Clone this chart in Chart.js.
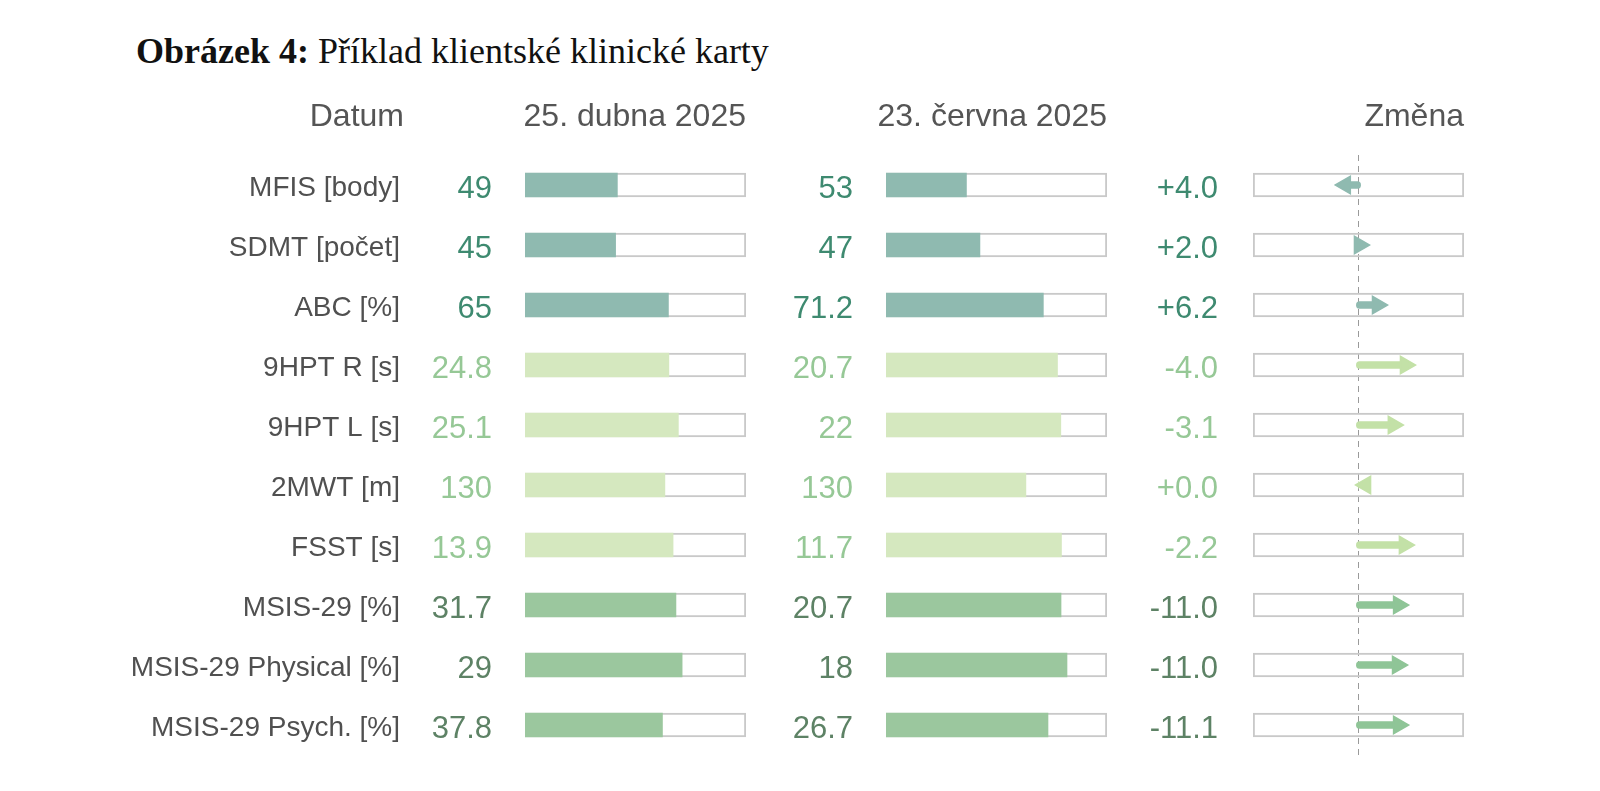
<!DOCTYPE html>
<html lang="cs">
<head>
<meta charset="utf-8">
<title>Obrázek 4: Příklad klientské klinické karty</title>
<script src="https://cdn.jsdelivr.net/npm/chart.js@4.4.1/dist/chart.umd.min.js"></script>
<style>
  html, body { margin: 0; padding: 0; background: #fff; }
  body { width: 1600px; height: 791px; position: relative; overflow: hidden; }
  .caption {
    position: absolute; left: 136px; top: 33px;
    font-family: "Liberation Serif", "Times New Roman", serif;
    font-size: 36px; line-height: 36px; color: #111; white-space: nowrap;
  }
  #card { position: absolute; left: 0; top: 0; }
</style>
</head>
<body>
<div class="caption"><b>Obrázek 4:</b> Příklad klientské klinické karty</div>
<canvas id="card" width="1600" height="791"></canvas>
<script>
// data of the card
const labels = ['MFIS [body]', 'SDMT [počet]', 'ABC [%]', '9HPT R [s]', '9HPT L [s]',
  '2MWT [m]', 'FSST [s]', 'MSIS-29 [%]', 'MSIS-29 Physical [%]', 'MSIS-29 Psych. [%]'];
const headers = ['Datum', '25. dubna 2025', '23. června 2025', 'Změna'];
const valuesApr = ['49', '45', '65', '24.8', '25.1', '130', '13.9', '31.7', '29', '37.8'];
const valuesJun = ['53', '47', '71.2', '20.7', '22', '130', '11.7', '20.7', '18', '26.7'];
const changes = ['+4.0', '+2.0', '+6.2', '-4.0', '-3.1', '+0.0', '-2.2', '-11.0', '-11.0', '-11.1'];
// how full each bar is (% of the box)
const fillApr = [41.8, 41.0, 64.9, 65.1, 69.4, 63.3, 67.0, 68.3, 71.1, 62.2];
const fillJun = [36.4, 42.5, 71.2, 77.6, 79.1, 63.3, 79.4, 79.2, 81.9, 73.3];
// change arrows (-100..100 across the box), +1 = points right
const arrowTail = [2, 0, -2, -2, -2, 0, -2, -2, -2, -2];
const arrowShaft = [-12.5, 0, 18, 44.5, 33, 0, 43.5, 38, 37, 38];
const arrowHead = [-12.5, 0.9, 18, 44.5, 33, 6.7, 43.5, 38, 37, 38];
const arrowDir = [-1, 1, 1, 1, 1, -1, 1, 1, 1, 1];
// which colour group a row belongs to
const rowGroup = ['a', 'a', 'a', 'b', 'b', 'b', 'b', 'c', 'c', 'c'];

const groupColors = {
  a: { bar: '#8fbab0', text: '#3e8a70', arrow: '#8fbab0' },
  b: { bar: '#d5e8bf', text: '#96c896', arrow: '#c3e1a7' },
  c: { bar: '#9bc79e', text: '#5d8265', arrow: '#8fc597' }
};
const FONT = '"Liberation Sans", Arial, Helvetica, sans-serif';
Chart.defaults.font.family = FONT;

const barColors = rowGroup.map(g => groupColors[g].bar);
const arrowColors = rowGroup.map(g => groupColors[g].arrow);

const boxStyle = {
  backgroundColor: 'rgba(0,0,0,0)',
  borderColor: '#c9c9c9',
  borderWidth: 1.5,
  borderSkipped: false,
  order: 5
};

// value texts and column headers
const cardText = {
  id: 'cardText',
  afterDatasetsDraw(chart) {
    const { ctx, scales } = chart;
    const y = scales.y;
    ctx.save();
    ctx.textAlign = 'right';

    ctx.font = '32px ' + FONT;
    ctx.fillStyle = '#555';
    ctx.textBaseline = 'alphabetic';
    const headY = chart.chartArea.top - 29;
    ctx.fillText(headers[0], y.right - 6, headY);
    ctx.fillText(headers[1], scales.x1.right, headY);
    ctx.fillText(headers[2], scales.x2.right, headY);
    ctx.fillText(headers[3], scales.x3.right, headY);

    ctx.font = '31px ' + FONT;
    ctx.textBaseline = 'middle';
    labels.forEach((_, i) => {
      const py = y.getPixelForValue(i) + 4;
      ctx.fillStyle = groupColors[rowGroup[i]].text;
      ctx.fillText(valuesApr[i], scales.x1.left - 33, py);
      ctx.fillText(valuesJun[i], scales.x2.left - 33, py);
      ctx.fillText(changes[i], scales.x3.left - 35, py);
    });
    ctx.restore();
  }
};

new Chart(document.getElementById('card'), {
  type: 'bar',
  data: {
    labels: labels,
    datasets: [
      { label: 'duben', data: fillApr, xAxisID: 'x1', backgroundColor: barColors, borderWidth: 0, order: 1 },
      Object.assign({ label: 'duben box', data: labels.map(() => 100), xAxisID: 'x1' }, boxStyle),
      { label: 'červen', data: fillJun, xAxisID: 'x2', backgroundColor: barColors, borderWidth: 0, order: 1 },
      Object.assign({ label: 'červen box', data: labels.map(() => 100), xAxisID: 'x2' }, boxStyle),
      Object.assign({ label: 'změna box', data: labels.map(() => [-100, 100]), xAxisID: 'x3' }, boxStyle),
      {
        label: 'změna',
        data: arrowShaft.map((v, i) => [arrowTail[i], v]),
        xAxisID: 'x3',
        backgroundColor: arrowColors,
        barThickness: 7,
        borderRadius: 3.5,
        borderSkipped: false,
        order: 2
      },
      {
        type: 'line',
        label: 'hrot',
        indexAxis: 'y',
        data: arrowHead,
        xAxisID: 'x3',
        yAxisID: 'y',
        showLine: false,
        pointStyle: 'triangle',
        pointRadius: 10,
        pointRotation: arrowDir.map(d => d > 0 ? 90 : -90),
        pointBackgroundColor: arrowColors,
        pointBorderColor: arrowColors,
        pointBorderWidth: 1.5,
        order: 0
      }
    ]
  },
  options: {
    indexAxis: 'y',
    responsive: false,
    animation: false,
    events: [],
    layout: { padding: { top: 155, bottom: 36, left: 0, right: 136 } },
    datasets: { bar: { grouped: false, barThickness: 24 } },
    plugins: { legend: { display: false }, tooltip: { enabled: false } },
    scales: {
      y: {
        type: 'category',
        position: 'left',
        grid: { display: false, drawTicks: false },
        border: { display: false },
        ticks: { color: '#505050', font: { size: 28 }, padding: 10, autoSkip: false, labelOffset: 3 },
        afterFit: s => { s.width = 410; }
      },
      xg1: { axis: 'x', type: 'linear', position: 'bottom', stack: 'cols', stackWeight: 115, display: false },
      x1: { type: 'linear', position: 'bottom', stack: 'cols', stackWeight: 221, min: 0, max: 100, display: false },
      xg2: { axis: 'x', type: 'linear', position: 'bottom', stack: 'cols', stackWeight: 140, display: false },
      x2: { type: 'linear', position: 'bottom', stack: 'cols', stackWeight: 221, min: 0, max: 100, display: false },
      xg3: { axis: 'x', type: 'linear', position: 'bottom', stack: 'cols', stackWeight: 146, display: false },
      x3: {
        type: 'linear', position: 'bottom', stack: 'cols', stackWeight: 211,
        min: -100, max: 100,
        ticks: { display: false, stepSize: 100 },
        grid: {
          drawTicks: false,
          lineWidth: 1,
          color: c => (c.tick && c.tick.value === 0) ? '#9a9a9a' : 'rgba(0,0,0,0)'
        },
        border: { display: false, dash: [6, 5] }
      }
    }
  },
  plugins: [cardText]
});
</script>
</body>
</html>
